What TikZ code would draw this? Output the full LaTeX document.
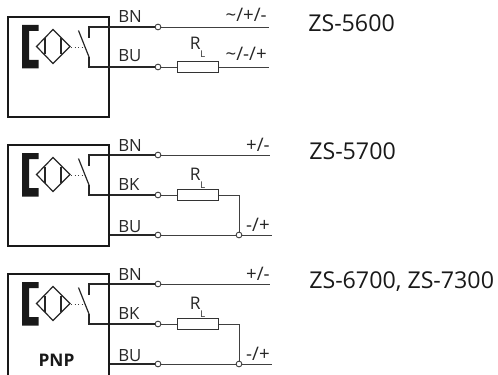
\documentclass[tikz,border=0pt]{standalone}
\usepackage{fontspec}
\setmainfont{Open Sans}
\usetikzlibrary{positioning}

% Styles
\tikzstyle{housing}=[line width=1.5pt,black!90]
\tikzstyle{sensor line}=[line width=0.9pt,black!85]
\tikzstyle{heavy wire}=[line width=1.2pt,black!85]
\tikzstyle{light wire}=[line width=0.65pt,black!75]
\tikzstyle{terminal}=[circle,draw=black!80,line width=0.65pt,fill=white,inner sep=0pt,minimum size=4.3pt]
\tikzstyle{resistor}=[rectangle,draw=black!80,line width=0.7pt,fill=white,inner sep=0pt,minimum width=30.5pt,minimum height=8pt]
\tikzstyle{wire label}=[inner sep=0pt,anchor=base west,text=black!85,font=\fontsize{12.6pt}{13pt}\selectfont]
\tikzstyle{supply label}=[inner sep=0pt,anchor=base east,text=black!85,font=\fontsize{14pt}{15pt}\selectfont]
\tikzstyle{type label}=[inner sep=0pt,anchor=base west,text=black!90,font=\fontsize{17.4pt}{18pt}\selectfont]

% Bracket, diamond, switch and the upper wire of one sensor
\newcommand{\sensorhead}[1]{
  \fill[black!90] (22,25) -- (38.5,25) -- (38.5,31) -- (29,31) -- (29,60) -- (38.5,60)
    -- (38.5,68.5) -- (22,68.5) -- cycle;
  \draw[sensor line] (36.5,46.5) -- (53,29.5) -- (70,46.5) -- (53,63.5) -- cycle;
  \draw[sensor line] (45,38.5) -- (45,54.5);
  \draw[sensor line] (61,38.5) -- (61,54.5);
  \draw[light wire,dotted] (71,47) -- (86,47);
  \draw[sensor line] (78.5,30.5) -- (89,57);
  \coordinate (#1up) at (89,27);
  \coordinate (#1low) at (89,57);
  \node[terminal] (#1a) at (158,27) {};
  \node[terminal] (#1b) at (158,67) {};
  \draw[heavy wire] (89,38) -- (#1up) -- (#1a);
  \draw[heavy wire] (#1low) -- (89,67) -- (#1b);
}

% Load resistor with its name
\newcommand{\loadres}[2]{
  \node[resistor] (#1r) at (198,67) {};
  \node[inner sep=0pt,anchor=base west,text=black!85,font=\fontsize{13pt}{14pt}\selectfont]
    (#1rl) at (189.5,#2) {R\raisebox{-6pt}{\fontsize{7pt}{8pt}\selectfont L}};
  \draw[light wire] (#1b) -- (#1r);
}

\begin{document}
\begin{tikzpicture}[x=0.75pt,y=-0.75pt]
  \useasboundingbox (0,0) rectangle (498,374);

  % First sensor
  \draw[housing] (8,17) rectangle (109,117);
  \sensorhead{p}
  \loadres{p}{50}
  \coordinate (pe1) at (269,27);
  \coordinate (pe2) at (269,67);
  \draw[light wire] (pa) -- (pe1);
  \draw[light wire] (pr) -- (pe2);
  \node[wire label] (pbn) at (118,22.5) {BN};
  \node[wire label] (pbu) at (118,61.5) {BU};
  \node[supply label] (pv1) at (267,21.5) {\textasciitilde/+/-};
  \node[supply label] (pv2) at (267,60.5) {\textasciitilde/-/+};
  \node[type label] (pname) at (308,32) {ZS-5600};

  % Second and third sensor
  \foreach \s/\dy/\sname in {q/128/ZS-5700,t/257/{ZS-6700, ZS-7300}} {
    \begin{scope}[shift={(0,\dy)}]
      \sensorhead{\s}
      \loadres{\s}{52}
      \coordinate (\s e1) at (270,27);
      \coordinate (\s e2) at (272,107);
      \coordinate (\s bend) at (239,67);
      \node[terminal] (\s c) at (158,107) {};
      \node[terminal] (\s j) at (239,107) {};
      \coordinate (\s in) at (109,107);
      \draw[light wire] (\s a) -- (\s e1);
      \draw[light wire] (\s r) -- (\s bend) -- (\s j);
      \draw[light wire] (\s c) -- (\s j) -- (\s e2);
      \draw[heavy wire] (\s in) -- (\s c);
      \node[wire label] (\s bn) at (118,23) {BN};
      \node[wire label] (\s bk) at (118,62.5) {BK};
      \node[wire label] (\s bu) at (118,104) {BU};
      \node[supply label] (\s v1) at (270,23) {+/-};
      \node[supply label] (\s v2) at (270,103.5) {-/+};
      \node[type label] (\s name) at (309,31.5) {\sname};
    \end{scope}
  }

  % Housings of the lower two
  \draw[housing] (8,145) rectangle (109,246);
  \draw[housing] (8,376) -- (8,274) -- (109,274) -- (109,376);
  \node[inner sep=0pt,font=\fontsize{13pt}{14pt}\selectfont\bfseries,text=black!90] (tpnp) at (56.5,360.5) {PNP};
\end{tikzpicture}
\end{document}
